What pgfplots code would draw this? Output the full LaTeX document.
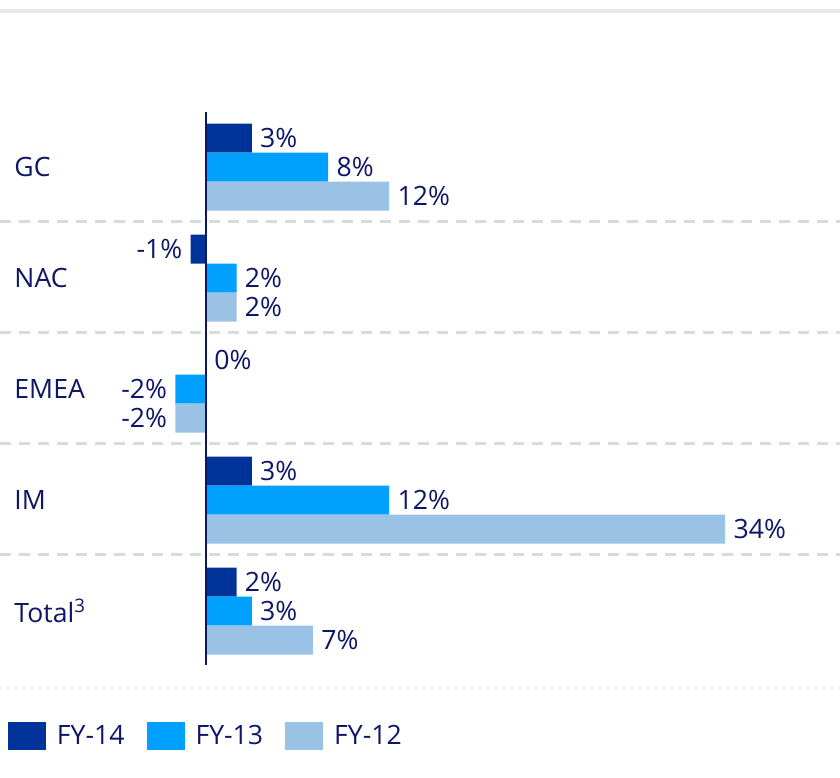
\documentclass[border=0pt]{standalone}
\usepackage{fontspec}
\setmainfont{Open Sans}
\usepackage{pgfplots}
\pgfplotsset{compat=1.18}
\definecolor{navytxt}{RGB}{14,22,104}
\definecolor{c14}{RGB}{0,51,153}
\definecolor{c13}{RGB}{0,160,255}
\definecolor{c12}{RGB}{153,194,228}
\definecolor{sepgray}{RGB}{213,220,218}
\definecolor{topgray}{RGB}{229,234,232}
\begin{document}
\begin{tikzpicture}[font=\fontsize{13.3pt}{16pt}\selectfont, text=navytxt]
\begin{axis}[
  width=420pt, height=388.5pt, scale only axis,
  xmin=-13.4905, xmax=41.519, ymin=0, ymax=777, y dir=reverse,
  axis line style={draw=none}, tick style={draw=none},
  xtick=\empty, ytick=\empty,
  clip=false,
  xbar, bar width=14.5pt, bar shift=0pt,
  point meta=x,
  nodes near coords={\pgfmathprintnumber[assume math mode=true]{\pgfplotspointmeta}\%},
  nodes near coords align={horizontal},
  every node near coord/.append style={text=navytxt, font=\fontsize{13.3pt}{16pt}\selectfont, inner sep=4pt},
  legend columns=3,
  legend image code/.code={\fill[#1] (0pt,-7pt) rectangle (19pt,7pt);},
  legend style={at={(axis cs:-12.97,736)}, anchor=west, draw=none, fill=none,
    inner sep=0pt, outer sep=0pt, nodes={inner sep=0pt, text=navytxt},
    font=\fontsize{13.3pt}{16pt}\selectfont,
    /tikz/every odd column/.append style={column sep=5.5pt},
    /tikz/every even column/.append style={column sep=11pt}},
]
\coordinate (bl) at (rel axis cs:0,0);
\coordinate (tr) at (rel axis cs:1,1);
% decorations
\draw[topgray, line width=2pt] (axis cs:-13.4905,11) -- (axis cs:41.519,11);
\pgfplotsinvokeforeach{221,332,443,554}{
  \draw[sepgray, line width=1.5pt, dash pattern=on 5.5pt off 4pt] (axis cs:-13.4905,#1) -- (axis cs:41.519,#1);
}
\draw[sepgray, line width=1.2pt, line cap=round, dash pattern=on 0pt off 4pt] (axis cs:-13.4905,688) -- (axis cs:41.519,688);

\addplot[fill=c14, draw=none] coordinates {(3,138) (-1,249) (0,360) (3,471) (2,582)};
\addlegendentry{FY-14}
\addplot[fill=c13, draw=none] coordinates {(8,167) (2,278) (-2,389) (12,500) (3,611)};
\addlegendentry{FY-13}
\addplot[fill=c12, draw=none] coordinates {(12,196) (2,307) (-2,418) (34,529) (7,640)};
\addlegendentry{FY-12}

\draw[navytxt, line width=1pt] (axis cs:0,112) -- (axis cs:0,665);

\node[anchor=west, inner sep=0pt] at (axis cs:-12.57,167) {GC};
\node[anchor=west, inner sep=0pt] at (axis cs:-12.57,278) {NAC};
\node[anchor=west, inner sep=0pt] at (axis cs:-12.57,389) {EMEA};
\node[anchor=west, inner sep=0pt] at (axis cs:-12.57,500) {IM};
\node[anchor=west, inner sep=0pt] at (axis cs:-12.57,611) {Total\textsuperscript{3}};
\end{axis}
\pgfresetboundingbox
\path[use as bounding box] (bl) rectangle (tr);
\end{tikzpicture}
\end{document}
